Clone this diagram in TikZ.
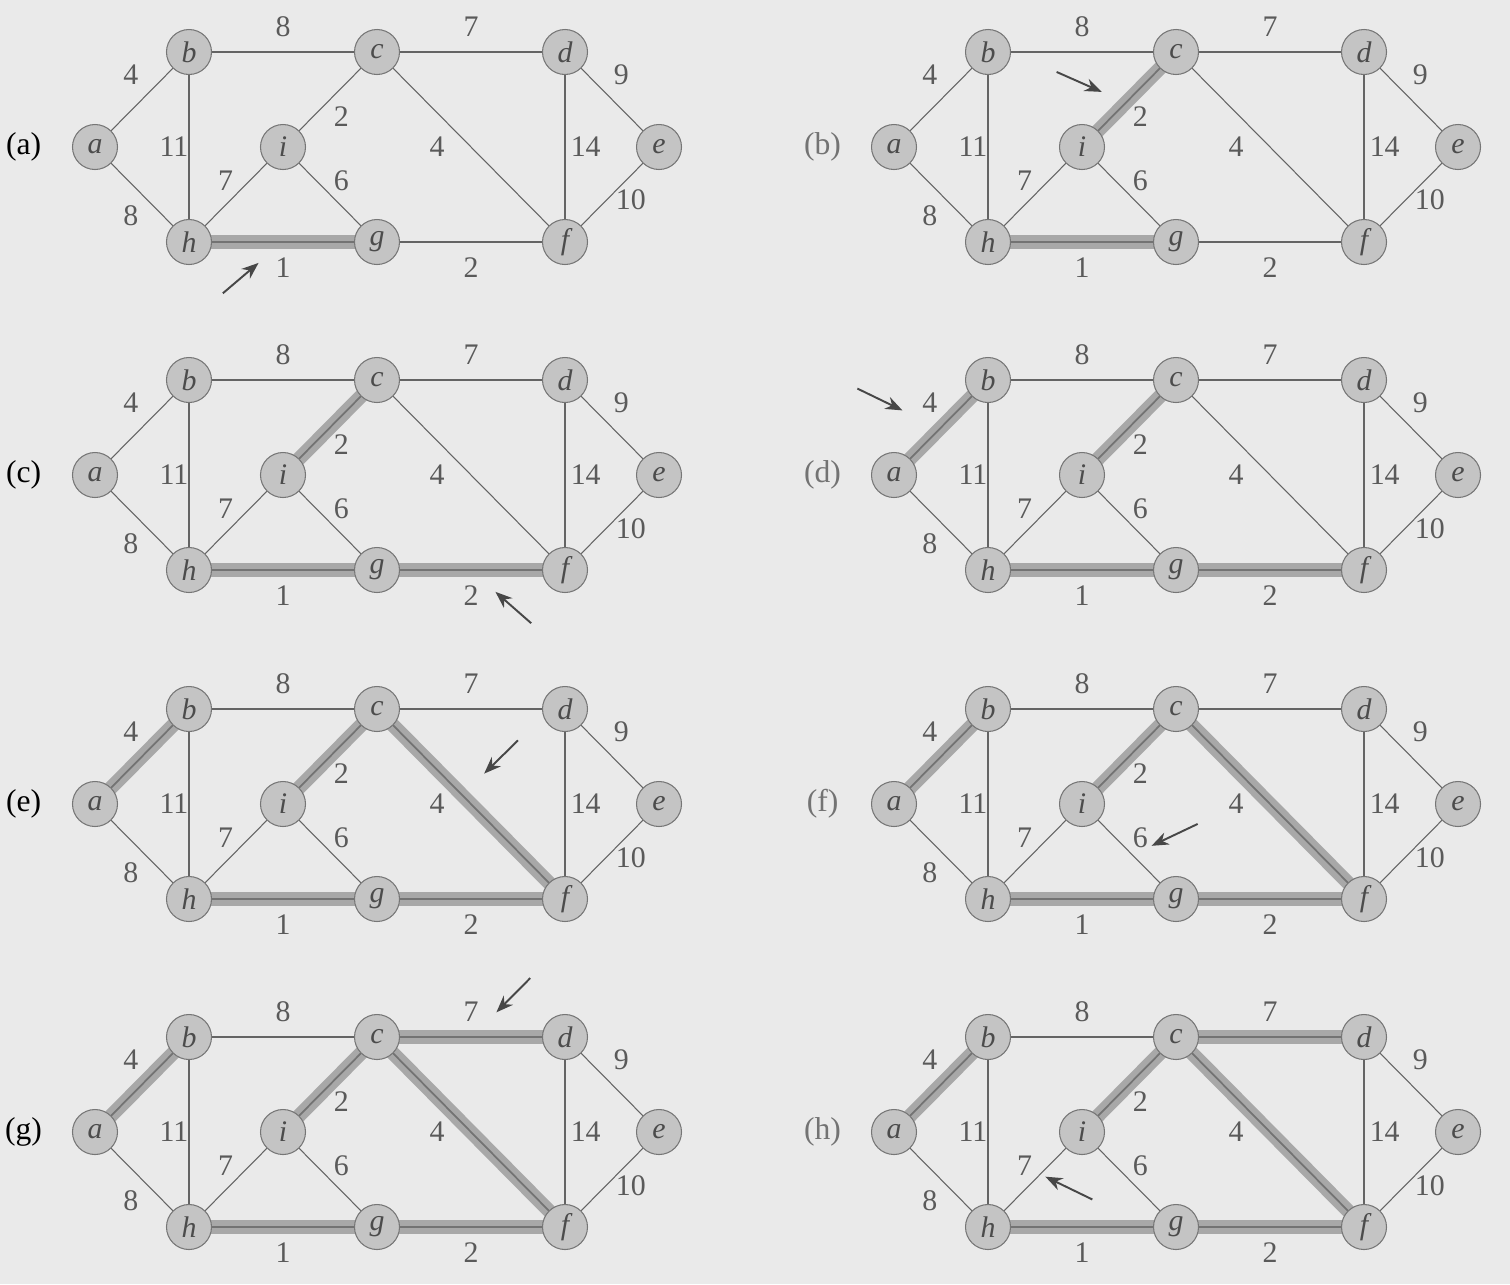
\documentclass[tikz,border=0pt]{standalone}
\usepackage{fontspec}
\setmainfont{Liberation Serif}
\usetikzlibrary{arrows.meta}
\definecolor{paper}{RGB}{234,234,234}
\definecolor{vfill}{RGB}{196,196,196}
\definecolor{vline}{RGB}{118,118,118}
\definecolor{eline}{RGB}{100,100,100}
\definecolor{band}{RGB}{168,168,168}
\definecolor{wtext}{RGB}{90,90,90}
\pgfdeclarelayer{paperlayer}
\pgfdeclarelayer{edgelayer}
\pgfsetlayers{paperlayer,edgelayer,main}
\tikzset{
  vertex/.style={circle, draw=vline, fill=vfill, line width=0.6pt, minimum size=0.9cm,
                 inner sep=0pt, font=\fontsize{17}{17}\selectfont\itshape, text=black!70},
  edge/.style={draw=eline, line width=0.6pt},
  treeedge/.style={draw=black!55, line width=1pt, preaction={draw=band, line width=0.28cm}},
  wt/.style={font=\fontsize{17}{17}\selectfont, text=wtext, inner sep=1pt},
  steplbl/.style={font=\fontsize{18}{18}\selectfont, inner sep=1pt},
  pointer/.style={-{Stealth[length=3.4mm, width=2.6mm, inset=1.1mm]}, line width=1.1pt, black!72}
}
% #1 shift, #2 prefix, #3 step letter, #4 letter colour, #5 tree edges, #6 tail, #7 tip
\newcommand{\kruskalstep}[7]{%
  \begin{scope}[shift={#1}]
    \node[steplbl, text=#4] (#2lbl) at (-0.76,0) {(#3)};
    \foreach \v/\x/\y in {a/0/0, b/1/1, c/3/1, d/5/1, e/6/0, f/5/-1, g/3/-1, h/1/-1, i/2/0}
      \node[vertex] (#2\v) at (\x,\y) {\v};
    \begin{pgfonlayer}{edgelayer}
      \foreach \u/\v in {a/b, a/h, b/c, b/h, c/d, c/i, c/f, d/e, d/f, e/f, f/g, g/h, g/i, h/i}
        \draw[edge] (#2\u.center) -- (#2\v.center);
      \foreach \u/\v in {#5}
        \draw[treeedge] (#2\u.center) -- (#2\v.center);
    \end{pgfonlayer}
    \foreach \n/\w/\x/\y in {ab/4/0.38/0.76, ah/8/0.38/-0.72, bc/8/2/1.27, bh/11/0.84/0,
        cd/7/4/1.27, ci/2/2.62/0.32, cf/4/3.64/0, de/9/5.6/0.76, df/14/5.22/0,
        ef/10/5.7/-0.56, fg/2/4/-1.27, gh/1/2/-1.27, gi/6/2.62/-0.35, hi/7/1.39/-0.35}
      \node[wt] (#2w\n) at (\x,\y) {\w};
    \coordinate (#2tail) at #6;
    \coordinate (#2tip) at #7;
    \draw[pointer] (#2tail) -- (#2tip);
  \end{scope}}

\begin{document}
\begin{tikzpicture}[x=1.88cm, y=1.9cm]
\begin{pgfonlayer}{paperlayer}
  \fill[paper] (-1.9cm,2.94cm) rectangle (28.3cm,-22.74cm);
\end{pgfonlayer}
\useasboundingbox (-1.9cm,2.94cm) rectangle (28.3cm,-22.74cm);

\kruskalstep{(0,0)}{A}{a}{black}{h/g}{(1.36,-1.54)}{(1.74,-1.22)}
\kruskalstep{(15.98cm,0)}{B}{b}{black!55}{h/g, i/c}{(1.73,0.79)}{(2.21,0.58)}
\kruskalstep{(0,-6.56cm)}{C}{c}{black}{h/g, i/c, g/f}{(4.64,-1.56)}{(4.26,-1.23)}
\kruskalstep{(15.98cm,-6.56cm)}{D}{d}{black!55}{h/g, i/c, g/f, a/b}{(-0.39,0.91)}{(0.09,0.68)}
\kruskalstep{(0,-13.14cm)}{E}{e}{black}{h/g, i/c, g/f, a/b, c/f}{(4.5,0.67)}{(4.14,0.32)}
\kruskalstep{(15.98cm,-13.14cm)}{F}{f}{black!55}{h/g, i/c, g/f, a/b, c/f}{(3.23,-0.21)}{(2.74,-0.44)}
\kruskalstep{(0,-19.7cm)}{G}{g}{black}{h/g, i/c, g/f, a/b, c/f, c/d}{(4.63,1.62)}{(4.27,1.26)}
\kruskalstep{(15.98cm,-19.7cm)}{H}{h}{black!55}{h/g, i/c, g/f, a/b, c/f, c/d}{(2.11,-0.71)}{(1.61,-0.47)}
\end{tikzpicture}
\end{document}
